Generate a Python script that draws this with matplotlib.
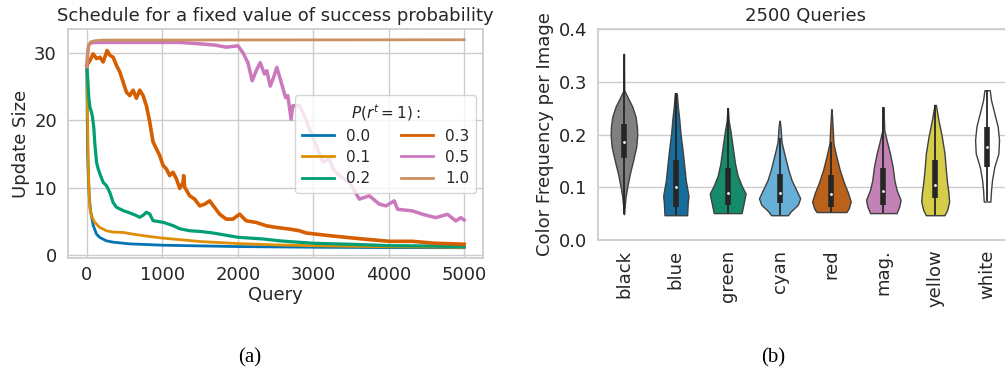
import colorsys
import matplotlib
matplotlib.use("Agg")
import matplotlib.pyplot as plt
from matplotlib.colors import to_rgb

# ---------------- data: panel (a) ----------------
q_00 = [0, 5, 10, 18, 31, 48, 84, 128, 172, 260, 349, 569, 1010, 1500, 2000, 3000, 4000, 5000]
u_00 = [28, 20, 15, 12.1, 8.9, 6.6, 4.4, 3.1, 2.6, 2.1, 1.9, 1.65, 1.45, 1.35, 1.25, 1.15, 1.1, 1.08]

q_01 = [0, 10, 20, 30, 40, 60, 100, 170, 260, 350, 480, 610, 790, 1010, 1360, 1500, 2000, 2500, 3000, 3500, 4000, 4500, 5000]
u_01 = [28, 20, 13, 9, 6.9, 5.9, 4.9, 4.1, 3.6, 3.4, 3.35, 3.1, 2.8, 2.5, 2.15, 2.0, 1.7, 1.5, 1.38, 1.3, 1.22, 1.18, 1.15]

q_02 = [0, 10, 25, 40, 62, 75, 93, 106, 128, 150, 181, 216, 260, 304, 348, 392, 481, 569, 657, 701, 745, 789, 833, 877,
        1010, 1142, 1230, 1362, 1500, 1671, 2002, 2332, 2553, 3000, 3500, 4000, 4500, 5000]
u_02 = [28, 26.5, 23.5, 22, 21.2, 20.5, 18.8, 16.5, 13.8, 12.8, 11.8, 10.8, 10.3, 9.3, 7.8, 7.1, 6.6, 6.25, 5.85, 5.6, 5.9, 6.35, 6.1, 5.1,
        4.86, 4.37, 3.9, 3.6, 3.5, 3.27, 2.63, 2.38, 2.1, 1.74, 1.59, 1.39, 1.34, 1.24]

q_03 = [0, 40, 84, 128, 172, 216, 269, 304, 348, 392, 437, 481, 525, 569, 613, 657, 701, 745, 789, 833, 877, 921, 965,
        1010, 1054, 1098, 1142, 1187, 1231, 1275, 1283, 1296, 1362, 1429, 1495, 1561, 1627, 1693, 1759, 1847, 1935,
        2024, 2112, 2244, 2377, 2509, 2686, 2817, 2906, 3214, 3655, 4008, 4316, 4600, 5000]
u_03 = [28.2, 28.9, 29.9, 29.2, 29.4, 28.7, 30.4, 29.7, 29.4, 28.2, 27.2, 25.7, 24.2, 23.7, 24.5, 23.3, 24.5, 23.7, 22.2, 19.8, 16.8, 15.8, 14.8,
        13.3, 12.8, 11.8, 12.3, 11.3, 9.9, 10.8, 11.8, 10.1, 8.8, 8.3, 7.3, 7.55, 8.05, 7.06, 6.07, 5.33, 5.33,
        6.07, 5.08, 4.84, 4.34, 4.1, 3.85, 3.6, 3.27, 2.87, 2.38, 2.03, 2.03, 1.75, 1.6]

q_05 = [0, 10, 25, 50, 100, 300, 600, 900, 1230, 1495, 1700, 1847, 2002, 2068, 2134, 2191, 2244, 2297, 2354, 2385, 2430, 2465,
        2518, 2575, 2633, 2663, 2707, 2729, 2817, 2862, 2950, 3038, 3126, 3214, 3258, 3347, 3479, 3611, 3743, 3876, 3964,
        4074, 4118, 4316, 4449, 4625, 4780, 4890, 4956, 5000]
u_05 = [28, 30, 31.2, 31.5, 31.6, 31.6, 31.6, 31.6, 31.6, 31.4, 31.2, 30.9, 31.1, 30.1, 28.6, 25.9, 27.4, 28.6, 26.9, 27.4, 25.1, 26.1,
        27.9, 25.7, 23.4, 23.7, 20.2, 22.2, 22.2, 21.2, 18.75, 16.3, 13.8, 14.3, 12.8, 11.8, 10.8, 8.3, 8.8, 7.56, 7.3,
        8.05, 6.8, 6.55, 6.05, 5.55, 6.05, 5.06, 5.55, 5.2]

q_10 = [0, 10, 25, 50, 100, 200, 5000]
u_10 = [28, 30, 31.2, 31.7, 31.85, 31.95, 32]

series_labels = ["0.0", "0.1", "0.2", "0.3", "0.5", "1.0"]
series_q = [q_00, q_01, q_02, q_03, q_05, q_10]
series_u = [u_00, u_01, u_02, u_03, u_05, u_10]
series_colors = ["#0173b2", "#de8f05", "#029e73", "#d55e00", "#cc78bc", "#ca9161"]
series_lw = [2.0, 2.0, 2.3, 2.6, 2.5, 2.0]

# ---------------- data: panel (b) ----------------
colour_names = ["black", "blue", "green", "cyan", "red", "mag.", "yellow", "white"]
violin_colors = ["#808080", "#0173b2", "#029e73", "#56b4e9", "#d55e00", "#cc78bc", "#ece133", "#ffffff"]
# density profile: (value, half-width in category units)
prof_y = [
    [0.353, 0.284, 0.272, 0.253, 0.234, 0.215, 0.199, 0.177, 0.152, 0.126, 0.101, 0.082, 0.063, 0.049],
    [0.278, 0.254, 0.231, 0.202, 0.172, 0.143, 0.113, 0.095, 0.083, 0.072, 0.047],
    [0.250, 0.226, 0.208, 0.177, 0.145, 0.122, 0.103, 0.088, 0.076, 0.051],
    [0.226, 0.215, 0.200, 0.185, 0.164, 0.133, 0.114, 0.095, 0.079, 0.067, 0.055, 0.047],
    [0.248, 0.208, 0.183, 0.158, 0.133, 0.108, 0.089, 0.073, 0.060, 0.053],
    [0.252, 0.208, 0.189, 0.164, 0.139, 0.114, 0.095, 0.076, 0.064, 0.051],
    [0.256, 0.227, 0.196, 0.164, 0.133, 0.108, 0.089, 0.073, 0.057, 0.047],
    [0.284, 0.265, 0.240, 0.215, 0.190, 0.164, 0.139, 0.114, 0.095, 0.073],
]
prof_w = [
    [0.0, 0.006, 0.064, 0.160, 0.224, 0.250, 0.256, 0.237, 0.180, 0.115, 0.064, 0.032, 0.013, 0.004],
    [0.019, 0.038, 0.064, 0.090, 0.128, 0.160, 0.192, 0.224, 0.244, 0.231, 0.218],
    [0.004, 0.019, 0.051, 0.096, 0.141, 0.192, 0.269, 0.346, 0.321, 0.269],
    [0.004, 0.018, 0.028, 0.040, 0.090, 0.170, 0.230, 0.321, 0.397, 0.353, 0.224, 0.160],
    [0.004, 0.026, 0.038, 0.096, 0.160, 0.244, 0.321, 0.372, 0.333, 0.288],
    [0.004, 0.019, 0.064, 0.128, 0.180, 0.212, 0.256, 0.333, 0.308, 0.256],
    [0.013, 0.064, 0.128, 0.180, 0.205, 0.231, 0.256, 0.269, 0.231, 0.180],
    [0.051, 0.077, 0.141, 0.205, 0.231, 0.218, 0.141, 0.096, 0.077, 0.064],
]
q1_vals = [0.155, 0.063, 0.066, 0.071, 0.063, 0.066, 0.079, 0.139]
q3_vals = [0.220, 0.152, 0.137, 0.125, 0.123, 0.136, 0.152, 0.215]
median_vals = [0.185, 0.101, 0.090, 0.089, 0.087, 0.092, 0.105, 0.177]
whisk_lo = [0.049, 0.047, 0.051, 0.047, 0.053, 0.051, 0.047, 0.073]
whisk_hi = [0.353, 0.278, 0.250, 0.193, 0.186, 0.252, 0.256, 0.284]


def desaturate(c, prop):
    h, l, s = colorsys.rgb_to_hls(*to_rgb(c))
    return colorsys.hls_to_rgb(h, l, s * prop)


FS = 13
plt.rcParams.update({
    "font.family": ["DejaVu Sans"],
    "font.size": FS,
    "text.color": "0.15",
    "axes.labelcolor": "0.15",
    "xtick.color": "0.15",
    "ytick.color": "0.15",
    "axes.edgecolor": "0.8",
    "grid.color": "0.8",
    "axes.linewidth": 1.25,
    "grid.linewidth": 1.0,
    "xtick.major.size": 0,
    "ytick.major.size": 0,
})

fig = plt.figure(figsize=(10.05, 3.69), dpi=100)

# ---------- panel (a) ----------
ax1 = fig.add_axes([68 / 1005, 1 - 258 / 369, 415 / 1005, 229 / 369])
ax1.set_axisbelow(True)
ax1.grid(True)
for q, u, lab, col, lw in zip(series_q, series_u, series_labels, series_colors, series_lw):
    ax1.plot(q, u, color=col, lw=lw, label=lab)
ax1.set_xlim(-250, 5250)
ax1.set_ylim(-0.45, 33.6)
ax1.set_xticks([0, 1000, 2000, 3000, 4000, 5000])
ax1.set_yticks([0, 10, 20, 30])
ax1.tick_params(axis="x", pad=6, labelsize=FS)
ax1.tick_params(axis="y", pad=8, labelsize=FS)
ax1.set_xlabel("Query", fontsize=FS, labelpad=1)
ax1.set_ylabel("Update Size", fontsize=FS, labelpad=3)
ax1.set_title("Schedule for a fixed value of success probability", fontsize=FS, pad=6)
leg = ax1.legend(title=r"$P(r^t=1):$", ncol=2, loc="upper left", bbox_to_anchor=(0.547, 0.712),
                 borderaxespad=0, fontsize=11, title_fontsize=11, handlelength=2.1,
                 columnspacing=2.0, borderpad=0.45, labelspacing=0.4, edgecolor="0.8")
leg.get_frame().set_linewidth(1.0)
for h in leg.get_lines():
    h.set_linewidth(2.0)

# ---------- panel (b) ----------
ax2 = fig.add_axes([598 / 1005, 1 - 240 / 369, 415 / 1005, 211 / 369])
ax2.set_axisbelow(True)
ax2.grid(True, axis="y")
positions = list(range(len(colour_names)))
stats = []
widths = []
for ys, ws in zip(prof_y, prof_w):
    m = max(ws)
    stats.append({"coords": ys, "vals": ws, "mean": 0, "median": 0, "min": min(ys), "max": max(ys)})
    widths.append(2 * m)
parts = ax2.violin(stats, positions=positions, widths=widths, showmeans=False,
                   showextrema=False, showmedians=False)
for body, col in zip(parts["bodies"], violin_colors):
    body.set_facecolor(desaturate(col, 0.75))
    body.set_edgecolor("0.25")
    body.set_linewidth(1.0)
    body.set_alpha(1)
    body.set_zorder(2)
ax2.vlines(positions, whisk_lo, whisk_hi, color="0.15", lw=1.3, zorder=3)
ax2.vlines(positions, q1_vals, q3_vals, color="0.15", lw=4.0, zorder=4)
ax2.scatter(positions, median_vals, s=4, color="white", zorder=5, linewidths=0)
ax2.set_xlim(-0.5, 7.5)
ax2.set_ylim(0, 0.4)
ax2.set_yticks([0.0, 0.1, 0.2, 0.3, 0.4])
ax2.set_yticklabels(["0.0", "0.1", "0.2", "0.3", "0.4"])
ax2.set_xticks(positions)
ax2.set_xticklabels(colour_names, rotation=90)
ax2.tick_params(axis="x", pad=7, labelsize=FS)
ax2.tick_params(axis="y", pad=8, labelsize=FS)
ax2.set_ylabel("Color Frequency per Image", fontsize=FS, labelpad=3)
ax2.set_title("2500 Queries", fontsize=FS, pad=6)

# ---------- captions ----------
fig.text(250 / 1005, 1 - 358 / 369, "(a)", family="Liberation Serif", fontsize=15,
         ha="center", va="center", color="black")
fig.text(773 / 1005, 1 - 358 / 369, "(b)", family="Liberation Serif", fontsize=15,
         ha="center", va="center", color="black")

fig.savefig("out.png", dpi=100)
